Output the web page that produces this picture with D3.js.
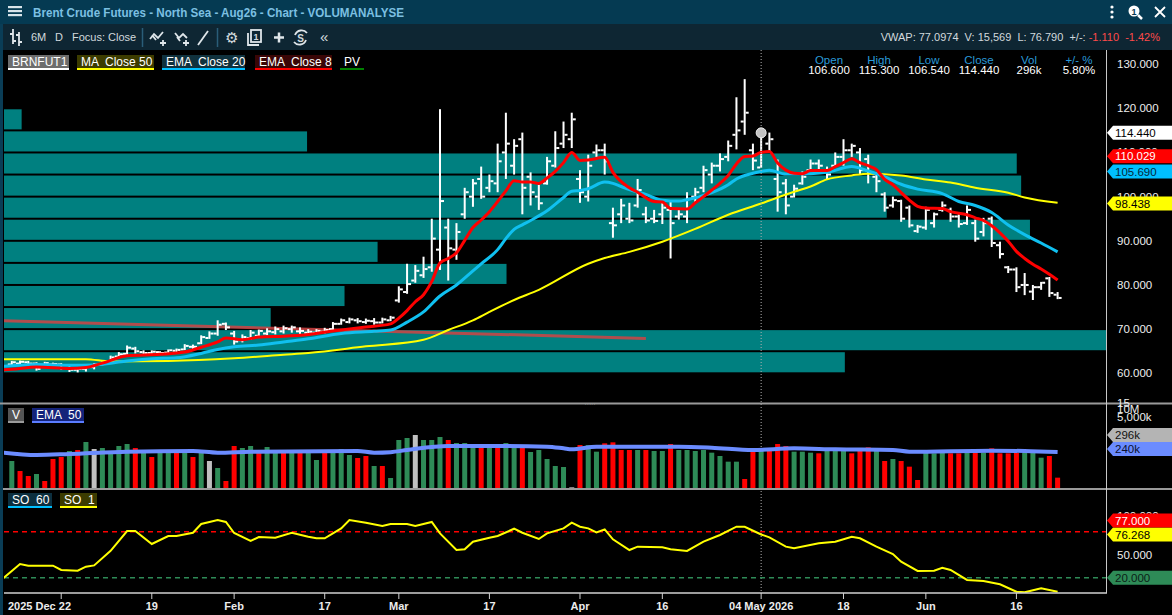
<!DOCTYPE html>
<html>
<head>
<meta charset="utf-8">
<script src="https://cdn.jsdelivr.net/npm/d3@7"></script>
<style>
html, body { margin: 0; padding: 0; background: #000; overflow: hidden; }
svg { display: block; font-family: "Liberation Sans", Arial, sans-serif; }
</style>
</head>
<body>
<div id="chart"></div>
<script>
// ---- bar data (daily OHLC, index 0 = first visible bar) ----
const opens = [
  62.0,62.2,62.5,62.2,61.5,62.0,62.0,61.2,60.8,61.0,
  61.4,62.0,62.6,63.8,64.4,65.6,64.8,64.6,64.8,64.7,
  65.1,65.4,66.0,66.8,68.0,69.0,71.2,69.0,67.5,68.0,
  68.5,69.0,69.3,69.5,70.0,69.5,69.2,69.2,69.4,70.0,
  71.2,71.6,72.0,71.6,71.8,71.5,72.0,76.5,78.4,81.0,
  82.2,84.0,88.0,93.0,88.0,96.0,100.0,104.0,102.0,103.0,
  110.0,107.0,113.0,104.5,100.0,103.0,107.0,112.0,113.0,104.0,
  100.0,110.0,110.5,94.0,96.0,95.0,98.0,96.0,95.0,96.0,
  97.0,95.5,95.5,100.0,102.0,105.0,107.0,109.0,114.0,117.0,
  110.5,106.6,112.0,104.0,103.0,100.0,103.0,106.0,107.5,106.0,
  107.0,109.0,110.5,110.0,108.5,104.5,100.5,98.0,99.0,97.5,
  92.2,93.0,94.0,97.0,97.0,95.5,94.0,94.0,92.0,95.0,
  89.0,84.0,83.5,80.0,78.5,79.5,81.5,77.8
];
const highs = [
  62.8,62.9,62.8,62.5,62.6,62.4,62.3,61.6,61.4,61.8,
  62.3,62.7,64.0,64.8,66.3,66.0,65.2,65.2,65.0,65.4,
  65.6,66.6,66.5,68.6,69.5,72.0,71.5,69.6,68.8,69.8,
  69.9,70.2,70.6,70.8,70.8,70.4,70.0,70.0,70.3,71.6,
  72.4,72.6,72.5,72.4,72.5,72.6,73.0,79.7,84.8,84.5,
  86.4,95.0,119.8,95.0,94.0,102.0,104.0,106.8,105.0,112.0,
  119.0,113.0,114.5,105.5,102.7,109.0,114.8,117.0,119.0,106.0,
  109.5,111.8,112.0,97.5,99.5,98.6,104.0,97.7,97.0,98.8,
  98.9,97.0,101.0,102.0,107.0,107.7,109.8,112.7,122.5,126.6,
  112.0,115.3,114.5,108.4,104.0,102.7,105.7,108.4,108.4,106.8,
  110.0,113.0,112.0,111.0,109.5,105.5,101.0,100.0,99.3,98.0,
  93.6,97.7,96.4,98.9,97.5,96.0,98.0,94.8,95.2,95.5,
  89.8,84.3,84.0,82.7,80.0,80.7,81.8,78.4
];
const lows = [
  61.6,62.0,61.8,60.6,61.4,61.7,60.8,60.3,60.2,60.4,
  60.9,61.8,62.4,63.5,64.2,64.5,64.2,64.3,64.2,64.4,
  64.8,65.2,65.5,66.6,67.8,68.5,69.8,66.5,67.0,67.6,
  68.0,68.6,68.8,69.0,69.2,68.8,68.5,68.8,69.0,69.6,
  71.0,71.3,71.3,71.2,71.0,71.3,71.8,76.0,78.0,80.5,
  81.6,83.0,83.4,81.0,85.7,95.0,97.7,99.5,101.0,101.0,
  104.0,105.0,96.0,98.0,97.0,102.7,106.6,111.0,111.0,98.6,
  98.9,109.0,105.0,90.7,94.0,94.0,97.5,94.0,94.0,93.8,
  86.0,94.8,94.0,98.6,101.0,103.0,105.7,108.0,110.7,114.0,
  106.0,106.54,110.0,96.6,96.0,99.8,102.7,105.7,106.0,103.9,
  106.8,107.0,109.0,105.0,103.0,101.0,96.6,97.5,94.3,93.0,
  91.8,92.5,93.0,96.6,94.3,93.0,93.6,89.8,91.0,88.6,
  86.0,82.7,78.4,77.7,76.6,78.9,77.3,76.79
];
const closes = [
  62.5,62.6,62.2,61.0,62.3,62.1,61.2,60.8,61.0,61.5,
  62.0,62.5,63.6,64.3,65.8,65.0,64.6,64.9,64.6,65.2,
  65.3,66.2,66.0,68.2,69.0,71.0,70.4,67.2,68.2,69.2,
  69.6,69.5,70.0,70.2,70.4,69.6,69.4,69.6,69.8,71.2,
  72.0,72.2,71.8,71.9,71.5,72.2,72.6,79.0,80.2,83.2,
  83.6,90.5,99.0,88.3,92.0,101.0,103.0,100.0,103.5,108.0,
  112.0,111.5,102.0,101.0,98.5,108.0,111.0,114.0,117.5,101.0,
  107.0,110.5,108.0,93.5,98.0,94.6,101.5,94.6,94.5,97.5,
  94.0,96.0,99.5,101.0,106.0,107.0,108.5,111.5,115.0,119.0,
  108.17,114.44,113.0,101.0,98.0,101.8,104.5,107.5,107.0,105.0,
  109.0,110.5,111.5,106.0,105.5,103.5,97.5,99.2,95.0,93.5,
  93.2,97.0,96.0,98.0,95.5,93.8,97.0,90.5,94.0,89.5,
  87.0,83.5,79.5,80.0,79.5,80.5,78.17,77.06
];

// volume in thousands, and bar colour key: g = up, r = down, w = unchanged
const volume = [
  168,108,78,90,48,180,192,228,234,282,
  240,246,222,258,270,246,222,192,222,222,
  222,222,192,222,168,126,48,258,246,258,
  222,252,222,222,222,222,222,174,222,222,
  240,204,186,198,138,138,66,294,306,324,
  294,294,312,294,276,276,252,252,252,252,
  276,252,252,222,234,180,138,132,10,264,
  264,224,274,280,234,234,234,234,228,228,
  270,234,234,228,234,218,198,164,164,60,
  234,234,234,270,258,224,224,218,214,234,
  234,234,214,228,250,234,168,180,168,134,
  54,218,214,218,214,214,218,218,218,244,
  214,214,218,218,218,188,198,68
];
const volDir = (
  "grrgrrrgrg" + "wggggrgrgg" + "rgrgwgrrgg" + "rggrgrggrg" + "ggrrgrgggw" +
  "gggrgggrgr" + "ggrgggggwr" + "ggrrrrgrgg" + "rggggggggr" + "rgrrrgggrg" +
  "ggrrrgrgrr" + "rgggrrgrgr" + "rrrgggrr").split("");

// indicator lines: [bar index, value]
const ma50 = [[-1,63.2],[0,63.2],[9,63.2],[12,62.7],[19,62.8],[27,63.4],[33,64.2],[36,64.6],[43,66.1],
  [50,67.6],[53,69.8],[56,72.0],[58,73.9],[61,76.6],[64,78.9],[70,84.8],[72,86.1],[75,87.5],[79,89.8],
  [83,92.7],[87,95.9],[91,98.44],[95,101.1],[97,102.3],[99,103.9],[102,104.8],[104,105.2],[108,104.8],
  [111,103.9],[114,103.2],[117,102.0],[121,100.9],[123,99.8],[127,98.6]];
const ema20 = [[-1,61.6],[0,61.7],[3,62.0],[7,61.8],[10,61.9],[12,62.3],[14,62.8],[17,63.3],[20,63.5],
  [23,64.5],[25,65.4],[27,66.0],[30,66.4],[33,67.1],[36,67.8],[40,69.0],[44,69.5],[46,69.8],[48,71.6],
  [50,73.9],[52,77.5],[54,80.0],[56,83.2],[57,84.8],[59,88.0],[60,90.5],[61,92.6],[62,93.6],[63,94.6],
  [65,96.8],[67,99.8],[68,101.2],[69,101.4],[70,101.8],[72,103.3],[73,103.0],[74,102.3],[75,101.6],
  [77,100.5],[79,99.2],[81,99.0],[82,99.3],[85,100.9],[87,102.7],[88,104.0],[90,105.3],[91,105.69],
  [92,106.0],[94,105.1],[97,105.2],[99,105.5],[102,106.8],[104,105.8],[106,104.5],[108,102.8],
  [110,101.7],[113,100.7],[115,98.9],[117,98.0],[119,96.4],[121,93.6],[123,91.4],[125,89.5],[127,87.5]];
const ema8 = [[-1,60.8],[0,60.9],[3,61.4],[7,61.1],[9,61.3],[11,62.3],[14,64.0],[18,64.3],[21,64.8],
  [23,65.9],[25,67.1],[26,68.0],[28,67.6],[30,68.2],[33,68.4],[35,68.6],[39,69.6],[43,70.5],[46,71.2],
  [47,72.5],[48,74.2],[49,76.2],[50,77.8],[51,80.8],[52,85.0],[53,86.0],[54,87.3],[55,90.1],[56,93.0],
  [57,94.7],[58,96.6],[59,98.9],[60,101.3],[61,103.6],[62,103.3],[63,103.3],[64,103.0],[65,104.2],
  [66,105.7],[67,107.7],[68,110.0],[69,108.2],[70,108.3],[72,108.9],[73,105.5],[75,102.0],[76,101.0],
  [78,98.9],[79,98.8],[80,97.3],[82,97.2],[83,98.6],[84,100.0],[85,101.5],[86,103.0],[87,104.8],
  [88,107.4],[89,109.1],[90,109.2],[91,110.03],[92,110.2],[93,107.6],[94,106.0],[95,105.3],[96,105.2],
  [97,105.9],[99,105.9],[100,106.8],[101,107.7],[102,108.6],[103,107.7],[104,107.0],[105,106.1],
  [106,103.9],[107,102.7],[108,100.9],[109,99.2],[110,97.8],[111,97.4],[113,97.3],[114,96.6],
  [116,95.9],[117,95.2],[118,94.6],[119,93.4],[120,91.8],[121,89.9],[122,87.6],[123,86.0],[124,84.7],
  [125,83.6],[126,82.4],[127,81.1]];
const trendLine = [[-1,71.9],[77,67.9]];
const volEma50 = [[-1,218],[3,204],[7,210],[14,224],[22,228],[25,218],[29,224],[42,228],[44,218],[46,221],
  [48,234],[53,258],[59,258],[65,254],[67,244],[68,238],[71,254],[81,254],[85,248],[90,234],[95,244],
  [100,238],[107,234],[109,224],[119,230],[123,228],[127,222]];
const stoch = [[-1,19.6],[1,37.8],[2,35.6],[5,35.6],[6,30],[8,29],[9,34.3],[10,36],[12,55],[14,80.8],
  [15,80.8],[17,63.9],[19,74.3],[20,74.3],[22,78.6],[23,90],[25,95.2],[26,92.6],[27,78.2],[29,67.8],
  [30,73],[32,72],[34,78.6],[36,73.4],[37,71.3],[38,71.3],[40,84.3],[41,95.2],[43,91.7],[45,87.4],
  [46,90],[48,90],[49,87.4],[51,92.6],[52,77.8],[54,56],[55,57],[56,66.9],[58,72],[59,74.3],[61,83.8],
  [62,78.6],[64,70.4],[65,77.8],[67,84.3],[68,91.7],[69,86.4],[70,84.3],[71,79.1],[72,83],[73,70],
  [75,56],[76,60.4],[79,59.6],[80,57],[82,54.8],[84,66.9],[86,75.6],[88,86.4],[89,86.4],[91,76.27],
  [92,72.6],[94,60.4],[95,58.3],[98,64.8],[100,66.9],[102,73.4],[103,71.3],[105,60.4],[107,50.8],
  [108,40.8],[110,28.7],[112,29],[113,33],[114,30],[116,17],[118,15.6],[120,11.3],[122,1.7],[123,0.9],
  [125,6.1],[127,1.7]];

// volume-at-price profile (5-point price bands, volume in millions)
const profileLow = [115,110,105,100,95,90,85,80,75,70,65,60];
const profileVol = [0.16,2.75,9.19,9.23,8.01,9.31,3.39,4.56,3.09,2.42,10.0,7.63];

// axis ticks
const tickIdx = [6,17,27,38,47,58,69,79,91,101,111,122];
const tickLabels = ["2025 Dec 22","19","Feb","17","Mar","17","Apr","16","04 May 2026","18","Jun","16"];
const priceTicks = [60,70,80,90,100,110,120,130];

// crosshair readouts
const crossIdx = 91;
const crossVol = "296k";
const crossTags = [114.440, 110.029, 105.690, 98.438];
const volTags = [240, 296];
const soTags = [76.268, 77.000, 20.000];

// ---------------------------------------------------------------
const W = 1172, H = 615;
const svg = d3.select('#chart').append('svg').attr('width', W).attr('height', H);
const defs = svg.append('defs');
function clip(id, x0, y0, w, h) {
  defs.append('clipPath').attr('id', id).append('rect')
    .attr('x', x0).attr('y', y0).attr('width', w).attr('height', h);
}
clip('cp-price', 4, 50, 1102, 353);
clip('cp-vol', 4, 404, 1102, 85);
clip('cp-so', 4, 490, 1102, 103);

const n = closes.length;
const x = d3.scaleLinear().domain([0, n - 1]).range([11.8, 1057.6]);
const y = d3.scaleLinear().domain([60, 120]).range([373.3, 108.3]);
const yVol = d3.scaleLinear().domain([0, 510]).range([489, 404]);
const ySo = d3.scaleLinear().domain([0, 100]).range([593, 516.3]);
const xProf = d3.scaleLinear().domain([0, 10]).range([4, 1106]);

svg.append('rect').attr('width', W).attr('height', H).attr('fill', '#000');

// title bar + toolbar
svg.append('rect').attr('width', W).attr('height', 24).attr('fill', '#053a52');
svg.append('rect').attr('y', 24).attr('width', W).attr('height', 26).attr('fill', '#0e2633');
svg.append('rect').attr('y', 24).attr('width', 3).attr('height', H - 24).attr('fill', '#0a3d56');

[7, 11, 15].forEach(v => svg.append('rect').attr('x', 8).attr('y', v - 1).attr('width', 14).attr('height', 2.2).attr('fill', '#d8e4ea'));
svg.append('text').attr('x', 33).attr('y', 17).attr('fill', '#7cc0e2')
  .attr('textLength', 371).attr('lengthAdjust', 'spacingAndGlyphs')
  .style('font-size', '13px').style('font-weight', 'bold')
  .text('Brent Crude Futures - North Sea - Aug26 - Chart - VOLUMANALYSE');
[7, 12, 17].forEach(v => svg.append('circle').attr('cx', 1112).attr('cy', v).attr('r', 1.6).attr('fill', '#fff'));
svg.append('circle').attr('cx', 1134).attr('cy', 11).attr('r', 5.5).attr('fill', '#fff');
svg.append('text').attr('x', 1134).attr('y', 14.5).attr('text-anchor', 'middle').attr('fill', '#053a52')
  .style('font-size', '9px').style('font-weight', 'bold').text('1');
svg.append('path').attr('d', 'M1138,15 L1142,19').attr('stroke', '#fff').attr('stroke-width', 2.5);
svg.append('path').attr('d', 'M1155,7 L1165,17 M1165,7 L1155,17').attr('stroke', '#fff').attr('stroke-width', 1.8);

const tb = svg.append('g').attr('fill', 'none').attr('stroke', '#dfe6ea').attr('stroke-width', 1.8);
tb.append('path').attr('d', 'M10,34H13 M13,29V44 M13,41H16 M19,32V46 M16,35H19 M19,42H22');
tb.append('path').attr('d', 'M150,39 L154,34 L158,38 L163,32 M152,35 L156,40 M160,43h6 M163,40v6');
tb.append('path').attr('d', 'M175,33 L179,38 L183,34 L187,38 M177,37 L180,41 M183,43h6 M186,40v6');
tb.append('path').attr('d', 'M198,45 L208,31');
tb.append('rect').attr('x', 251).attr('y', 30).attr('width', 10).attr('height', 12);
tb.append('path').attr('d', 'M248,33 V45 H259');
tb.append('path').attr('d', 'M274,37.5 H284 M279,32.5 V42.5').attr('stroke-width', 2.5);
tb.append('path').attr('d', 'M295,35 A7,7 0 0 1 307,33 M306,40 A7,7 0 0 1 294,42');
svg.append('path').attr('d', 'M142.5,28V47 M217.5,28V47').attr('stroke', '#2a5d78').attr('stroke-width', 1.5);
const tbText = svg.append('g').attr('fill', '#d2d9dd').style('font-size', '11px');
tbText.append('text').attr('x', 31).attr('y', 41).text('6M');
tbText.append('text').attr('x', 55).attr('y', 41).text('D');
tbText.append('text').attr('x', 72).attr('y', 41).text('Focus: Close');
tbText.append('text').attr('x', 231.5).attr('y', 42.5).attr('text-anchor', 'middle').style('font-size', '15px').text('\u2699');
tbText.append('text').attr('x', 256).attr('y', 40).attr('text-anchor', 'middle').style('font-size', '9px').style('font-weight', 'bold').text('1');
tbText.append('text').attr('x', 300.5).attr('y', 41.5).attr('text-anchor', 'middle').style('font-size', '10px').style('font-weight', 'bold').text('S');
tbText.append('text').attr('x', 320).attr('y', 42).style('font-size', '15px').text('\u00ab');
const vw = tbText.append('text').attr('x', 1160).attr('y', 41).attr('text-anchor', 'end').style('white-space', 'pre');
vw.append('tspan').text('VWAP: 77.0974  V: 15,569  L: 76.790  +/-: ');
vw.append('tspan').attr('fill', '#ff4a4a').text('-1.110  -1.42%');

// ---- price panel ----
const gp = svg.append('g').attr('clip-path', 'url(#cp-price)');
gp.selectAll('rect.prof').data(profileLow).enter().append('rect')
  .attr('x', 4)
  .attr('y', d => y(d + 5) + 1)
  .attr('width', (d, i) => xProf(profileVol[i]) - 4)
  .attr('height', d => y(d) - y(d + 5) - 2)
  .attr('fill', '#008080');

const line = d3.line().x(d => x(d[0])).y(d => y(d[1]));
gp.append('path').datum(trendLine).attr('d', line).attr('fill', 'none')
  .attr('stroke', '#d04444').attr('stroke-width', 3).attr('opacity', 0.85);

const bars = gp.append('g').attr('fill', '#fff');
d3.range(n).forEach(i => {
  const cx = x(i);
  bars.append('rect').attr('x', cx - 1).attr('y', y(highs[i])).attr('width', 2).attr('height', Math.max(2, y(lows[i]) - y(highs[i])));
  bars.append('rect').attr('x', cx - 4).attr('y', y(opens[i]) - 1).attr('width', 3).attr('height', 2);
  bars.append('rect').attr('x', cx + 1).attr('y', y(closes[i]) - 1).attr('width', 3).attr('height', 2);
});

const smooth = d3.line().x(d => x(d[0])).y(d => y(d[1])).curve(d3.curveMonotoneX);
gp.append('path').datum(ma50).attr('d', smooth).attr('fill', 'none').attr('stroke', '#ffff00').attr('stroke-width', 2);
gp.append('path').datum(ema20).attr('d', smooth).attr('fill', 'none').attr('stroke', '#10c0f0').attr('stroke-width', 3);
gp.append('path').datum(ema8).attr('d', smooth).attr('fill', 'none').attr('stroke', '#ff0000').attr('stroke-width', 3);

// crosshair
svg.append('line').attr('x1', x(crossIdx)).attr('x2', x(crossIdx)).attr('y1', 50).attr('y2', 593)
  .attr('stroke', '#b0b0b0').attr('stroke-width', 1).attr('stroke-dasharray', '1,2');
svg.append('circle').attr('cx', x(crossIdx)).attr('cy', y(closes[crossIdx])).attr('r', 5)
  .attr('fill', '#c4c4c4').attr('stroke', '#eeeeee').attr('stroke-width', 1);

// legend boxes
function legendBox(x0, y0, w, label, bg, ul) {
  if (bg) svg.append('rect').attr('x', x0).attr('y', y0).attr('width', w).attr('height', 14).attr('fill', bg);
  svg.append('rect').attr('x', x0).attr('y', y0 + 13).attr('width', w).attr('height', 2).attr('fill', ul);
  svg.append('text').attr('x', x0 + 4).attr('y', y0 + 11).attr('fill', '#fff')
    .style('font-size', '12px').style('white-space', 'pre').text(label);
}
legendBox(8, 55, 61, 'BRNFUT1', '#6d6d6d', '#ffffff');
legendBox(77, 55, 77, 'MA  Close 50', '#3c3c00', '#ffff00');
legendBox(162, 55, 83, 'EMA  Close 20', '#10323e', '#00bfff');
legendBox(255, 55, 77, 'EMA  Close 8', '#3a0606', '#ff0000');
legendBox(340, 55, 24, 'PV', null, '#008000');

// OHLC readout
const fmt3 = d3.format('.3f');
const pct = (closes[crossIdx] / closes[crossIdx - 1] - 1) * 100;
const heads = ['Open', 'High', 'Low', 'Close', 'Vol', '+/- %'];
const vals = [fmt3(opens[crossIdx]), fmt3(highs[crossIdx]), fmt3(lows[crossIdx]), fmt3(closes[crossIdx]), crossVol, d3.format('.2f')(pct) + '%'];
heads.forEach((h, i) => {
  const cx = 829 + i * 50;
  svg.append('text').attr('x', cx).attr('y', 64).attr('text-anchor', 'middle').attr('fill', '#2a9ad8').style('font-size', '11.5px').text(h);
  svg.append('text').attr('x', cx).attr('y', 74).attr('text-anchor', 'middle').attr('fill', '#fff').style('font-size', '11.5px').text(vals[i]);
});

// ---- volume panel ----
const gv = svg.append('g').attr('clip-path', 'url(#cp-vol)');
const volColor = { g: '#2e8b57', r: '#ff0000', w: '#c0c0c0' };
gv.selectAll('rect').data(volume).enter().append('rect')
  .attr('x', (d, i) => x(i) - 2.5).attr('width', 5)
  .attr('y', d => yVol(d)).attr('height', d => 489 - yVol(d))
  .attr('fill', (d, i) => volColor[volDir[i]]);
gv.append('path').datum(volEma50)
  .attr('d', d3.line().x(d => x(d[0])).y(d => yVol(d[1])).curve(d3.curveMonotoneX))
  .attr('fill', 'none').attr('stroke', '#6b8cff').attr('stroke-width', 4);

// ---- stochastic panel ----
const gs = svg.append('g').attr('clip-path', 'url(#cp-so)');
gs.append('line').attr('x1', 4).attr('x2', 1106).attr('y1', ySo(80)).attr('y2', ySo(80))
  .attr('stroke', '#ff0000').attr('stroke-width', 1.5).attr('stroke-dasharray', '5,4');
gs.append('line').attr('x1', 4).attr('x2', 1106).attr('y1', ySo(20)).attr('y2', ySo(20))
  .attr('stroke', '#2e8b57').attr('stroke-width', 1.5).attr('stroke-dasharray', '5,4');
gs.append('path').datum(stoch)
  .attr('d', d3.line().x(d => x(d[0])).y(d => ySo(d[1])))
  .attr('fill', 'none').attr('stroke', '#ffff00').attr('stroke-width', 2);

legendBox(8, 408, 16, 'V', '#555555', '#9a9a9a');
legendBox(32, 408, 52, 'EMA  50', '#14237a', '#5a7cff');
legendBox(8, 493, 44, 'SO  60', '#0c2f3f', '#00bfff');
legendBox(60, 493, 37, 'SO  1', '#3c3c00', '#ffff00');

// separators and axes
svg.append('rect').attr('x', 0).attr('y', 402.5).attr('width', W).attr('height', 2).attr('fill', '#9a9a9a');
svg.append('rect').attr('x', 3).attr('y', 488).attr('width', W).attr('height', 2).attr('fill', '#9a9a9a');
svg.append('text').attr('x', 590).attr('y', 405).attr('text-anchor', 'middle').attr('fill', '#888').style('font-size', '8px').text('.....');
svg.append('line').attr('x1', 1106.5).attr('x2', 1106.5).attr('y1', 50).attr('y2', 593).attr('stroke', '#c8c8c8').attr('stroke-width', 1);
svg.append('line').attr('x1', 4).attr('x2', 1107).attr('y1', 593).attr('y2', 593).attr('stroke', '#d0d0d0').attr('stroke-width', 1.5);

const xa = svg.append('g');
tickIdx.forEach((t, i) => {
  xa.append('line').attr('x1', x(t)).attr('x2', x(t)).attr('y1', 593).attr('y2', 599).attr('stroke', '#d0d0d0');
  xa.append('text').attr('x', i === 0 ? 8 : x(t)).attr('y', 610)
    .attr('text-anchor', i === 0 ? 'start' : 'middle')
    .attr('fill', '#ececec').style('font-size', '11px').style('font-weight', 'bold').text(tickLabels[i]);
});

const ra = svg.append('g').attr('fill', '#eeeeee').style('font-size', '11.5px');
priceTicks.forEach(p => ra.append('text').attr('x', 1117).attr('y', y(p)).attr('dy', '0.35em').text(fmt3(p)));
ra.append('text').attr('x', 1117).attr('y', 407).text('15');
ra.append('text').attr('x', 1117).attr('y', 413).text('10M');
ra.append('text').attr('x', 1117).attr('y', 421).text('5,000k');
[100, 50].forEach(v => ra.append('text').attr('x', 1117).attr('y', ySo(v)).attr('dy', '0.35em').text(fmt3(v)));

// value tags on the right axis, pushed apart when they collide
function drawTags(list) {
  const placed = [];
  list.forEach(t => {
    let yy = t.y;
    let hit = placed.find(p => Math.abs(p - yy) < 14);
    while (hit !== undefined) { yy = hit + t.dir * 14; hit = placed.find(p => Math.abs(p - yy) < 13.5); }
    placed.push(yy);
    svg.append('path')
      .attr('d', `M1107,${yy} L1113,${yy - 7} L1172,${yy - 7} L1172,${yy + 7} L1113,${yy + 7} Z`)
      .attr('fill', t.fill);
    svg.append('text').attr('x', 1115).attr('y', yy + 4).attr('fill', t.color).style('font-size', '11.5px').text(t.text);
  });
}
drawTags([
  { y: y(crossTags[0]), text: fmt3(crossTags[0]), fill: '#ffffff', color: '#000', dir: 1 },
  { y: y(crossTags[1]) + 4, text: fmt3(crossTags[1]), fill: '#ff0000', color: '#fff', dir: 1 },
  { y: y(crossTags[2]), text: fmt3(crossTags[2]), fill: '#00bfff', color: '#06283a', dir: 1 },
  { y: y(crossTags[3]), text: fmt3(crossTags[3]), fill: '#ffff00', color: '#000', dir: 1 }
]);
drawTags([
  { y: yVol(volTags[0]), text: volTags[0] + 'k', fill: '#6b8cff', color: '#0a1030', dir: 1 },
  { y: yVol(volTags[1]), text: volTags[1] + 'k', fill: '#b4b4b4', color: '#111', dir: -1 }
]);
drawTags([
  { y: ySo(soTags[0]), text: fmt3(soTags[0]), fill: '#ffff00', color: '#000', dir: 1 },
  { y: ySo(soTags[1]), text: fmt3(soTags[1]), fill: '#ff0000', color: '#fff', dir: -1 },
  { y: ySo(soTags[2]), text: fmt3(soTags[2]), fill: '#2e8b57', color: '#0b2016', dir: 1 }
]);
</script>
</body>
</html>
